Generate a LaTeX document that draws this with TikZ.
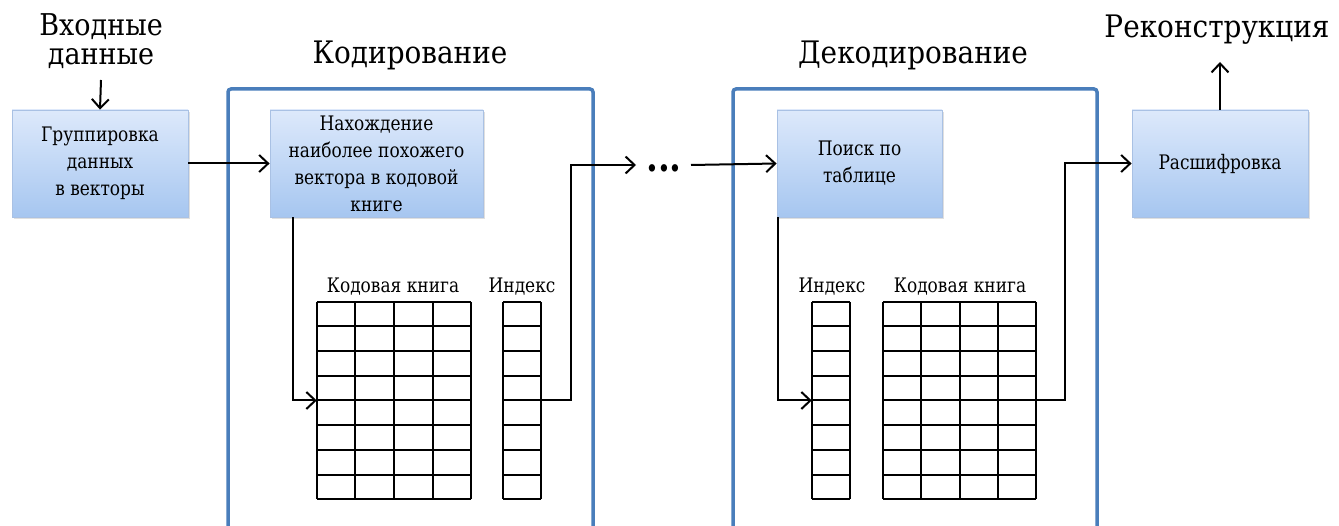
\documentclass[tikz,border=0pt]{standalone}
\usepackage{fontspec}
\setmainfont{DejaVu Serif}[FakeStretch=0.85]
\newfontfamily\serifru{DejaVu Serif}[FakeStretch=0.85]
\newfontfamily\serifbig{DejaVu Serif}[FakeStretch=0.9]
\usetikzlibrary{shadows,arrows.meta,calc}
\definecolor{frameblue}{HTML}{4A7EBB}
\definecolor{boxtop}{HTML}{DDE9FB}
\definecolor{boxbot}{HTML}{A6C6F0}
\definecolor{boxedge}{HTML}{A9C1E4}
\tikzset{
  proc/.style={draw=boxedge, line width=0.8pt, top color=boxtop, bottom color=boxbot,
    align=center, inner sep=0pt, font=\serifru\fontsize{20}{27}\selectfont,
    drop shadow={shadow xshift=1.5pt, shadow yshift=-2pt, opacity=0.25}},
  frame/.style={draw=frameblue, line width=3.5pt, rounded corners=3pt},
  conn/.style={draw=black, line width=2pt, -{Straight Barb[length=9pt,width=17pt,line width=2pt]}},
  big/.style={font=\serifbig\fontsize{31}{27}\selectfont, align=center, inner sep=0pt},
  inp/.style={font=\serifbig\fontsize{30}{29}\selectfont, align=center, inner sep=0pt},
  lbl/.style={font=\serifru\fontsize{20}{26}\selectfont, inner sep=0pt, anchor=base},
  gridline/.style={draw=black, line width=2pt},
  tbl/.style={inner sep=0pt, draw=none}
}
\begin{document}
\begin{tikzpicture}[x=1pt,y=-1pt]
\useasboundingbox (0,0) rectangle (1339,526);
% frames
\draw[frame] (228,530) -- (228,89) -- (593,89) -- (593,530);
\draw[frame] (733,530) -- (733,89) -- (1097,89) -- (1097,530);
% titles
\node[big, anchor=base] (tenc) at (410,64) {Кодирование};
\node[big, anchor=base] (tdec) at (913,64) {Декодирование};
\node[big, anchor=base] (tout) at (1217,38) {Реконструкция};
\node[inp, anchor=north] (tin) at (101,13) {Входные\\данные};
% boxes
\node[proc, minimum width=176pt, minimum height=107pt] (b1) at (100,163.5) {Группировка\\данных\\в векторы};
\node[proc, minimum width=213pt, minimum height=107pt] (b2) at (376.5,163.5) {Нахождение\\наиболее похожего\\вектора в кодовой\\книге};
\node[proc, minimum width=165pt, minimum height=107pt] (b3) at (859.5,163.5) {Поиск по\\таблице};
\node[proc, minimum width=176pt, minimum height=107pt] (b4) at (1220,163.5) {Расшифровка};
% tables
\node[tbl, minimum width=154pt, minimum height=197pt] (cb1) at (394,400.5) {};
\node[tbl, minimum width=38pt, minimum height=197pt] (ix1) at (522,400.5) {};
\node[tbl, minimum width=38pt, minimum height=197pt] (ix2) at (831,400.5) {};
\node[tbl, minimum width=153pt, minimum height=197pt] (cb2) at (959.5,400.5) {};
\foreach \t/\c in {cb1/4, ix1/1, ix2/1, cb2/4}{
  \foreach \i in {0,...,\c}{
    \draw[gridline] ($(\t.north west)!\i/\c!(\t.north east)$) -- ($(\t.south west)!\i/\c!(\t.south east)$);
  }
  \foreach \j in {0,...,8}{
    \draw[gridline] ($(\t.north west)!\j/8!(\t.south west)$) -- ($(\t.north east)!\j/8!(\t.south east)$);
  }
}
% table labels
\node[lbl] (lcb1) at (393,293) {Кодовая книга};
\node[lbl] (lix1) at (522,293) {Индекс};
\node[lbl] (lix2) at (832,293) {Индекс};
\node[lbl] (lcb2) at (960,293) {Кодовая книга};
% dots
\node[inner sep=0pt, anchor=base, font=\serifru\fontsize{40}{40}\selectfont\bfseries] (dots) at (664,172) {...};
\coordinate (dotsw) at (636,165);
\coordinate (dotse) at (691,165);
% connectors
\coordinate (inarr) at (101,80);
\draw[conn] (inarr) -- (b1.north);
\draw[conn] (b1.east) -- (b2.west);
\coordinate (b2d) at ($(b2.south west)+(23,0)$);
\draw[conn] (b2d) |- (cb1.west);
\coordinate (t1) at ($(ix1.east)+(30,0)$);
\draw[conn] (ix1.east) -- (t1) |- (dotsw);
\draw[conn] (dotse) -- (b3.west);
\coordinate (b3d) at ($(b3.south west)+(1.5,0)$);
\draw[conn] (b3d) |- (ix2.west);
\coordinate (t2) at ($(cb2.east)+(29,0)$);
\draw[conn] (cb2.east) -- (t2) |- (b4.west);
\coordinate (outarr) at (1220,62);
\draw[conn] (b4.north) -- (outarr);
\end{tikzpicture}
\end{document}
